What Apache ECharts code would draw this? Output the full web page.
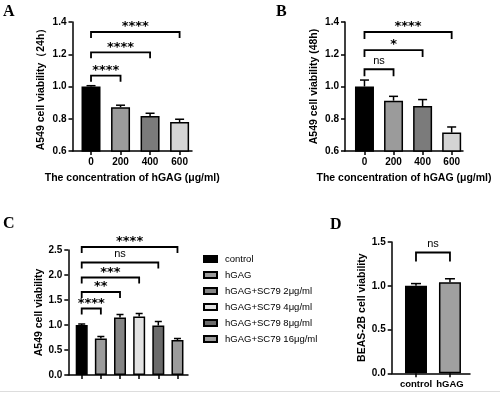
<!DOCTYPE html>
<html><head><meta charset="utf-8">
<script src="https://cdn.jsdelivr.net/npm/echarts@6/dist/echarts.min.js"></script>
<style>html,body{margin:0;padding:0;background:#fff}#c{width:500px;height:393px}</style>
</head><body><div id="c"></div>
<script>
// ---------- data ----------
const concentrations = ['0', '200', '400', '600'];
const viability24h = [1.00, 0.871, 0.817, 0.780];
const sem24h = [0.005, 0.013, 0.017, 0.017];
const viability48h = [1.00, 0.912, 0.879, 0.714];
const sem48h = [0.040, 0.027, 0.040, 0.035];
const groupsC = ['control', 'hGAG', 'hGAG+SC79 2μg/ml', 'hGAG+SC79 4μg/ml', 'hGAG+SC79 8μg/ml', 'hGAG+SC79 16μg/ml'];
const viabilityC = [1.00, 0.73, 1.15, 1.17, 0.99, 0.70];
const semC = [0.02, 0.04, 0.06, 0.06, 0.08, 0.03];
const groupsD = ['control', 'hGAG'];
const viabilityD = [1.00, 1.04];
const semD = [0.025, 0.04];
// significance brackets: [from group, to group, bracket level, label]
const sigA = [[0, 1, 1.067, '****'], [0, 2, 1.212, '****'], [0, 3, 1.338, '****']];
const sigB = [[0, 1, 1.107, 'ns'], [0, 2, 1.226, '*'], [0, 3, 1.338, '****']];
const sigC = [[0, 1, 1.33, '****'], [0, 2, 1.66, '**'], [0, 3, 1.95, '***'], [0, 4, 2.25, 'ns'], [0, 5, 2.56, '****']];
const sigD = [[0, 1, 1.38, 'ns']];
const yRangeAB = [0.6, 1.4, 0.2];
const yRangeC = [0, 2.5, 0.5];
const yRangeD = [0, 1.5, 0.5];

// ---------- styles ----------
const shadesAB = ['#000000', '#9b9b9b', '#7b7b7b', '#d4d4d4'];
const shadesC = ['#000000', '#9c9c9c', '#858585', '#e2e2e2', '#6b6b6b', '#9c9c9c'];
const shadesD = ['#000000', '#a0a0a0'];
const SANS = '"Liberation Sans", Arial, sans-serif';
const axisLineStyle = { color: '#000', width: 1.5 };

function xAxisFor(gridIndex, min, max, cats, showLabels, name, labelSize) {
  const pos = cats.map((_, i) => i);
  return {
    type: 'value', gridIndex, min, max,
    splitLine: { show: false },
    axisLine: { show: true, onZero: false, lineStyle: axisLineStyle },
    axisTick: { show: true, customValues: pos, length: 4, lineStyle: axisLineStyle },
    axisLabel: {
      show: showLabels, customValues: pos, margin: 6,
      formatter: v => { const k = Math.round(v); return cats[k] !== undefined ? cats[k] : ''; },
      color: '#000', fontSize: labelSize || 10, fontWeight: 'bold', fontFamily: SANS
    },
    name: name || '', nameLocation: 'middle', nameGap: 22,
    nameTextStyle: { color: '#000', fontSize: 10.5, fontWeight: 'bold', fontFamily: SANS }
  };
}
function yAxisFor(gridIndex, range, name, nameGap) {
  return {
    type: 'value', gridIndex, min: range[0], max: range[1], interval: range[2],
    splitLine: { show: false },
    axisLine: { show: true, onZero: false, lineStyle: axisLineStyle },
    axisTick: { show: true, length: 4, lineStyle: axisLineStyle },
    axisLabel: { formatter: v => v.toFixed(1), margin: 6, color: '#000', fontSize: 10, fontWeight: 'bold', fontFamily: SANS },
    name, nameLocation: 'middle', nameGap,
    nameTextStyle: { color: '#000', fontSize: 10.5, fontWeight: 'bold', fontFamily: SANS }
  };
}

function errorSeries(idx, means, sems, capHalf) {
  return {
    type: 'custom', xAxisIndex: idx, yAxisIndex: idx, z: 5, clip: false,
    data: means.map((m, i) => [i, m, sems[i]]),
    encode: { x: 0, y: 1 },
    renderItem: (params, api) => {
      const x = api.value(0), m = api.value(1), e = api.value(2);
      const p0 = api.coord([x, m]), p1 = api.coord([x, m + e]);
      const st = { stroke: '#000', lineWidth: 1.5 };
      return { type: 'group', children: [
        { type: 'line', shape: { x1: p0[0], y1: p0[1], x2: p1[0], y2: p1[1] }, style: st },
        { type: 'line', shape: { x1: p1[0] - capHalf, y1: p1[1], x2: p1[0] + capHalf, y2: p1[1] }, style: st }
      ] };
    }
  };
}
function bracketSeries(idx, sig, drop) {
  return {
    type: 'custom', xAxisIndex: idx, yAxisIndex: idx, z: 6, clip: false,
    data: sig.map(s => [s[0], s[1], s[2]]),
    encode: { x: [0, 1], y: 2 },
    renderItem: (params, api) => {
      const a = api.coord([api.value(0), api.value(2)]);
      const b = api.coord([api.value(1), api.value(2)]);
      const label = sig[params.dataIndex][3];
      const isNs = label === 'ns';
      return { type: 'group', children: [
        { type: 'polyline', shape: { points: [[a[0], a[1] + drop], a, b, [b[0], b[1] + drop]] },
          style: { stroke: '#000', lineWidth: 1.8, fill: null } },
        { type: 'text', x: (a[0] + b[0]) / 2, y: a[1] - (isNs ? 8.5 : 5),
          style: { text: label, fill: '#000', align: 'center', verticalAlign: 'middle',
            font: isNs ? '11px "Liberation Sans", Arial, sans-serif' : 'bold 13px "DejaVu Sans", sans-serif' } }
      ] };
    }
  };
}
function barData(means, shades) {
  return means.map((m, i) => ({ value: [i, m], itemStyle: { color: shades[i] } }));
}
const barBase = { type: 'bar', itemStyle: { borderColor: '#000', borderWidth: 1.5 }, barGap: '-100%' };

const series = [
  Object.assign({}, barBase, { xAxisIndex: 0, yAxisIndex: 0, barWidth: 19, data: barData(viability24h, shadesAB) }),
  errorSeries(0, viability24h, sem24h, 4.5),
  bracketSeries(0, sigA, 6),
  Object.assign({}, barBase, { xAxisIndex: 1, yAxisIndex: 1, barWidth: 19, data: barData(viability48h, shadesAB) }),
  errorSeries(1, viability48h, sem48h, 4.5),
  bracketSeries(1, sigB, 7),
];
groupsC.forEach((g, i) => {
  series.push(Object.assign({}, barBase, {
    name: g, xAxisIndex: 2, yAxisIndex: 2, barWidth: 12,
    itemStyle: { color: shadesC[i], borderColor: '#000', borderWidth: 1.5 },
    data: [[i, viabilityC[i]]]
  }));
});
series.push(errorSeries(2, viabilityC, semC, 3.5));
series.push(bracketSeries(2, sigC, 6));
series.push(Object.assign({}, barBase, { xAxisIndex: 3, yAxisIndex: 3, barWidth: 22, data: barData(viabilityD, shadesD) }));
series.push(errorSeries(3, viabilityD, semD, 5));
series.push(bracketSeries(3, sigD, 9));

const panelLabel = (t, left, top) => ({
  type: 'text', left, top,
  style: { text: t, fill: '#000', font: 'bold 16px "Liberation Serif", "Times New Roman", serif' }
});

const option = {
  animation: false,
  backgroundColor: '#fff',
  grid: [
    { left: 72.5, top: 22, width: 119.5, height: 129 },
    { left: 345, top: 22, width: 118, height: 129 },
    { left: 68.3, top: 250, width: 119.7, height: 125 },
    { left: 391.7, top: 242, width: 78.3, height: 131.3 }
  ],
  xAxis: [
    xAxisFor(0, -0.627, 3.42, concentrations, true, 'The concentration of hGAG (μg/ml)'),
    xAxisFor(1, -0.67, 3.39, concentrations, true, 'The concentration of hGAG (μg/ml)'),
    xAxisFor(2, -0.70, 5.55, groupsC, false, ''),
    xAxisFor(3, -0.715, 1.59, groupsD, true, '', 9.5)
  ],
  yAxis: [
    yAxisFor(0, yRangeAB, 'A549 cell viability（24h）', 26),
    yAxisFor(1, yRangeAB, 'A549 cell viability (48h)', 25),
    yAxisFor(2, yRangeC, 'A549 cell viability', 22),
    yAxisFor(3, yRangeD, 'BEAS-2B cell viability', 21)
  ],
  legend: {
    orient: 'vertical', left: 203, top: 253, padding: 0, itemWidth: 13, itemHeight: 6, itemGap: 4,
    selectedMode: false, icon: 'rect',
    data: groupsC,
    textStyle: { color: '#000', fontSize: 9.5, lineHeight: 12, fontFamily: '"Liberation Sans Narrow", "Liberation Sans", Arial, sans-serif', padding: [0, 0, 0, 3] }
  },
  graphic: [
    panelLabel('A', 3, 4), panelLabel('B', 276, 4), panelLabel('C', 3, 216), panelLabel('D', 330, 217),
    { type: 'line', shape: { x1: 0, y1: 391.5, x2: 500, y2: 391.5 }, style: { stroke: '#dddddd', lineWidth: 1 } }
  ],
  series
};
const chart = echarts.init(document.getElementById('c'), null, { renderer: 'canvas' });
chart.setOption(option);
</script></body></html>
